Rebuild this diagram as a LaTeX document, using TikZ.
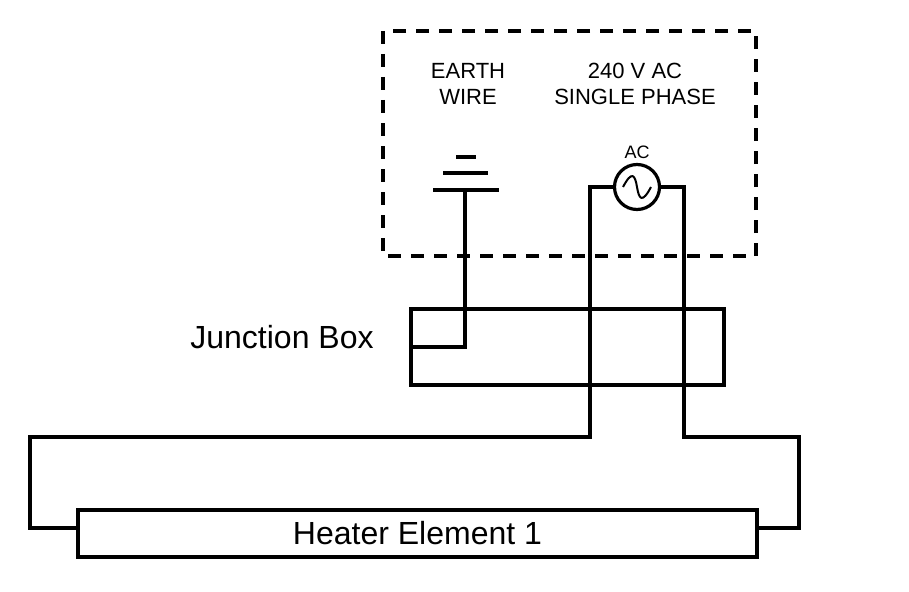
\documentclass[tikz,border=0pt]{standalone}
\usepackage{fontspec}
\setmainfont{Liberation Sans}
\usetikzlibrary{positioning}
\begin{document}
\begin{tikzpicture}[x=1pt, y=-1pt,
        wire/.style={line width=3.4pt},
        box/.style={draw, line width=3.4pt, inner sep=0pt},
        lbl/.style={align=center, font=\fontsize{22}{26}\selectfont}
    ]
        \useasboundingbox (0,0) rectangle (909,591);

        % Supply area
        \draw[line width=3.6pt, dash pattern=on 13pt off 10pt] (383,31) rectangle (756,256);
        \node[lbl] (earthlbl) at (468,84) {EARTH\\WIRE};
        \node[lbl] (supplylbl) at (635,84) {240 V AC\\SINGLE PHASE};

        % Earth symbol
        \coordinate (earth) at (465,190);
        \draw[line width=4.5pt] (433,190) -- (499,190);
        \draw[line width=4.5pt] (443,173) -- (488,173);
        \draw[line width=4.5pt] (456,157) -- (476,157);

        % AC source
        \node[draw, circle, line width=3.2pt, minimum size=45pt, inner sep=0pt] (src) at (637,187) {};
        \draw[line width=2pt] ([xshift=-14pt]src.center) .. controls (-5+637,170) and (-2+637,175) .. (src.center)
            .. controls (2+637,199) and (5+637,204) .. ([xshift=14pt]src.center);
        \node[font=\fontsize{18}{20}\selectfont, above=1pt of src] (aclbl) {AC};

        % Junction box and heater
        \node[box, minimum width=313pt, minimum height=76pt] (jbox) at (567.5,347) {};
        \node[font=\fontsize{32}{36}\selectfont, anchor=center] (jboxlbl) at (282,337) {Junction Box};
        \node[box, minimum width=679pt, minimum height=47pt, font=\fontsize{32}{36}\selectfont] (heater) at (417.5,533.5) {Heater Element 1};

        % Wires
        \draw[wire] (earth) |- (jbox.west |- 0,347);
        \draw[wire] (src.west) -| (590,437) -| (30,528) -- (heater.west |- 0,528);
        \draw[wire] (src.east) -| (684,437) -| (799,528) -- (heater.east |- 0,528);
    \end{tikzpicture}
\end{document}
